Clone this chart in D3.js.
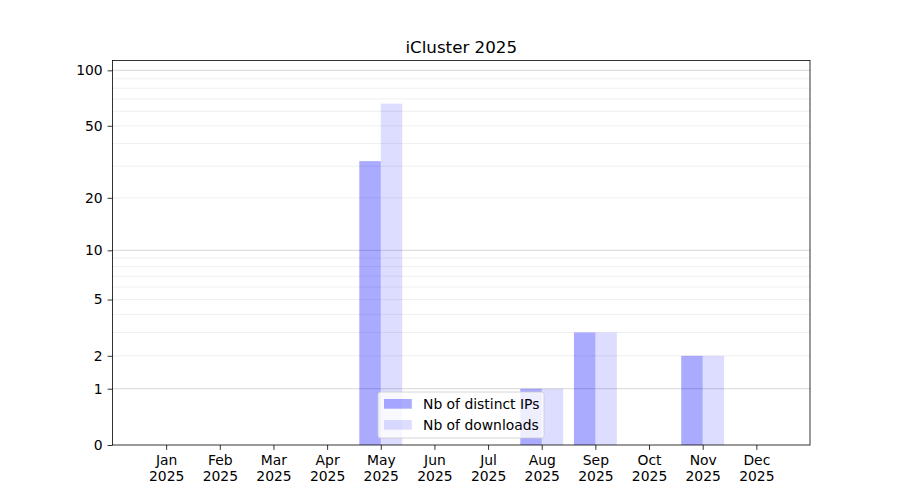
<!DOCTYPE html>
<html lang='en'>
<head>
  <meta charset='UTF-8'>
  <title>iCluster 2025</title>
  <style>
    body { margin: 0; background: #fff; }
    text { font-family: 'DejaVu Sans', sans-serif; }
  </style>
</head>
<body>
  <script src='https://cdn.jsdelivr.net/npm/d3@7/dist/d3.min.js'></script>
  <script>
// data
const months = ['Jan', 'Feb', 'Mar', 'Apr', 'May', 'Jun', 'Jul', 'Aug', 'Sep', 'Oct', 'Nov', 'Dec'];
const year = '2025';
const distinctIPs = [0, 0, 0, 0, 32, 0, 0, 1, 3, 0, 2, 0];
const downloads   = [0, 0, 0, 0, 66, 0, 0, 1, 3, 0, 2, 0];
const yTicks = [0, 1, 2, 5, 10, 20, 50, 100];
const majorGrid = [1, 10, 100];
const minorGrid = [2, 3, 4, 5, 6, 7, 8, 9, 20, 30, 40, 50, 60, 70, 80, 90];
const seriesNames = ['Nb of distinct IPs', 'Nb of downloads'];

const width = 900, height = 500;
const plotL = 112.5, plotR = 810, plotT = 60.5, plotB = 445;
const fs = 13.9;

const svg = d3.select('body').append('svg')
  .attr('width', width)
  .attr('height', height);

// x: month index, one slot of margin each side
const x = d3.scaleLinear().domain([-1, 12]).range([plotL, plotR]);
// y: symlog with constant 1 -> log(1 + v)
const y = d3.scaleSymlog().constant(1).domain([0, 113]).range([plotB, plotT]);

const barW = x(0.4) - x(0);

// grid
svg.append('g').selectAll('line')
  .data(minorGrid)
  .enter().append('line')
  .attr('x1', plotL).attr('x2', plotR)
  .attr('y1', d => y(d)).attr('y2', d => y(d))
  .attr('stroke', '#ebebeb').attr('stroke-width', 0.8);

svg.append('g').selectAll('line')
  .data(majorGrid)
  .enter().append('line')
  .attr('x1', plotL).attr('x2', plotR)
  .attr('y1', d => y(d)).attr('y2', d => y(d))
  .attr('stroke', '#cbcbcb').attr('stroke-width', 0.8);

// bars
svg.append('g').selectAll('rect')
  .data(distinctIPs)
  .enter().append('rect')
  .attr('x', (d, i) => x(i) - barW)
  .attr('y', d => y(d))
  .attr('width', barW)
  .attr('height', d => plotB - y(d))
  .attr('fill', 'blue').attr('fill-opacity', 0.333);

svg.append('g').selectAll('rect')
  .data(downloads)
  .enter().append('rect')
  .attr('x', (d, i) => x(i))
  .attr('y', d => y(d))
  .attr('width', barW)
  .attr('height', d => plotB - y(d))
  .attr('fill', 'blue').attr('fill-opacity', 0.133);

// axes
const xAxis = d3.axisBottom(x)
  .tickValues(d3.range(months.length))
  .tickSize(4.9)
  .tickPadding(4.9)
  .tickFormat(d => months[d]);

const gx = svg.append('g')
  .attr('transform', 'translate(0,' + plotB + ')')
  .call(xAxis);
gx.select('.domain').remove();
gx.selectAll('line').attr('stroke', '#000').attr('stroke-width', 0.8);
gx.selectAll('text')
  .attr('font-size', fs)
  .attr('fill', '#000')
  .each(function(d) {
    const t = d3.select(this);
    t.text(null);
    t.append('tspan').attr('x', 0).attr('dy', '0.71em').text(months[d]);
    t.append('tspan').attr('x', 0).attr('dy', '1.17em').text(year);
  })
  .attr('dy', null);

const yAxis = d3.axisLeft(y)
  .tickValues(yTicks)
  .tickSize(4.9)
  .tickPadding(4.9)
  .tickFormat(d3.format('d'));

const gy = svg.append('g')
  .attr('transform', 'translate(' + plotL + ',0)')
  .call(yAxis);
gy.select('.domain').remove();
gy.selectAll('line').attr('stroke', '#000').attr('stroke-width', 0.8);
gy.selectAll('text').attr('font-size', fs).attr('fill', '#000');

// frame
svg.append('rect')
  .attr('x', plotL).attr('y', plotT)
  .attr('width', plotR - plotL).attr('height', plotB - plotT)
  .attr('fill', 'none').attr('stroke', '#000').attr('stroke-width', 0.8);

// title
svg.append('text')
  .attr('x', (plotL + plotR) / 2)
  .attr('y', plotT - 8)
  .attr('text-anchor', 'middle')
  .attr('font-size', 16.7)
  .text('iCluster 2025');

// legend
const lg = svg.append('g').attr('transform', 'translate(378,392)');
lg.append('rect')
  .attr('width', 166).attr('height', 46).attr('rx', 2.5)
  .attr('fill', '#fff').attr('fill-opacity', 0.8)
  .attr('stroke', '#cccccc').attr('stroke-width', 0.8);

const items = lg.selectAll('g.item')
  .data(seriesNames)
  .enter().append('g')
  .attr('class', 'item')
  .attr('transform', (d, i) => 'translate(6,' + (7 + i * 21) + ')');

items.append('rect')
  .attr('width', 27.8).attr('height', 9.7)
  .attr('fill', 'blue')
  .attr('fill-opacity', (d, i) => i === 0 ? 0.333 : 0.133);

items.append('text')
  .attr('x', 39)
  .attr('y', 5)
  .attr('dy', '0.35em')
  .attr('font-size', fs)
  .text(d => d);
  </script>
</body>
</html>
